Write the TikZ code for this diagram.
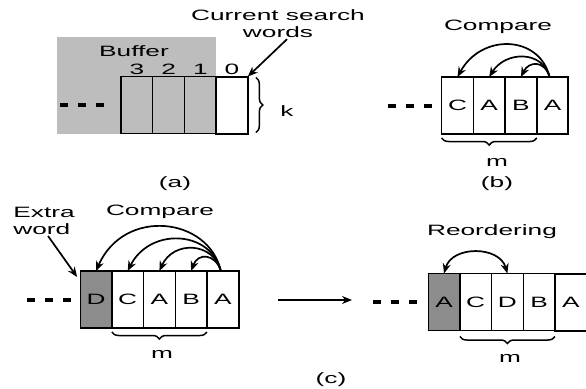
\documentclass[tikz,border=0pt]{standalone}
\usepackage{fontspec}
\setmainfont{Liberation Sans}
\newfontfamily\wide[FakeStretch=1.75]{Liberation Sans}
\usetikzlibrary{positioning,arrows.meta,decorations.pathreplacing}
\definecolor{bufgray}{gray}{0.74}
\definecolor{extragray}{gray}{0.55}
\tikzset{
    txt/.style={font=\wide\fontsize{15}{17}\selectfont, inner sep=1pt},
    num/.style={txt, inner sep=1.5pt},
    cell/.style={draw, txt, minimum width=31.7pt, minimum height=57pt, outer sep=0pt, inner sep=0pt, line width=1.3pt, fill=white},
    lastcell/.style={cell, line width=2pt},
    dots/.style={line width=4pt, dash pattern=on 8pt off 10pt},
    cmp/.style={line width=1.7pt, -{Stealth[length=10pt,width=8pt]}},
    reord/.style={line width=1.7pt, {Stealth[length=10pt,width=8pt]}-{Stealth[length=10pt,width=8pt]}},
    brc/.style={line width=1.5pt, decorate, decoration={brace, mirror, amplitude=7pt}},
    vbrc/.style={line width=1.5pt, decorate, decoration={brace, amplitude=7pt}},
}
\begin{document}
\begin{tikzpicture}[x=1pt,y=-1pt]
\useasboundingbox (0,0) rectangle (586,388);

% (a) buffer
\fill[bufgray] (57,37) rectangle (216.1,133.5);
\node[txt] (buf) at (134,51) {Buffer};
\node[cell, fill=bufgray, label={[num]above:3}] (a3) at (136.9,105) {};
\node[cell, fill=bufgray, right=0pt of a3, label={[num]above:2}] (a2) {};
\node[cell, fill=bufgray, right=0pt of a2, label={[num]above:1}] (a1) {};
\node[lastcell, right=0pt of a1, label={[num]above:0}] (a0) {};
\draw[dots] ([xshift=-61]a3.west) -- ++(46,0);
\draw[vbrc] ([xshift=8,yshift=-1]a0.north east) -- ([xshift=8,yshift=1]a0.south east);
\node[txt] (k) at (287,111) {k};
\node[txt, align=center] (cur) at (278,24) {Current search\\words};
\draw[cmp] ([xshift=9]cur.south) -- (a0.north east);
\node[txt] (capa) at (175,184) {(a)};

% (b) compare
\node[txt] (cmpb) at (498,27) {Compare};
\node[cell] (b1) at (457.5,105.5) {C};
\node[cell, right=0pt of b1] (b2) {A};
\node[cell, right=0pt of b2] (b3) {B};
\node[lastcell, right=0pt of b3] (b4) {A};
\draw[dots] ([xshift=-54]b1.west) -- ++(46,0);
\draw[cmp] ([xshift=-3]b4.north) .. controls +(-10,-42) and +(24,-44) .. (b1.north);
\draw[cmp] ([xshift=-3]b4.north) .. controls +(-7,-27) and +(16,-26) .. (b2.north);
\draw[cmp] ([xshift=-3]b4.north) .. controls +(-5,-17) and +(8,-16) .. (b3.north);
\draw[brc] ([yshift=-4]b1.south west) -- ([yshift=-4]b3.south east);
\node[txt] (mb) at (497,162) {m};
\node[txt] (capb) at (497,184) {(b)};

% (c) extra word, then reordering
\node[txt, align=left] (xtra) at (44,221) {Extra\\word};
\node[txt] (cmpc) at (160,212) {Compare};
\node[cell, fill=extragray] (c1) at (96,299.5) {D};
\node[cell, right=0pt of c1] (c2) {C};
\node[cell, right=0pt of c2] (c3) {A};
\node[cell, right=0pt of c3] (c4) {B};
\node[lastcell, right=0pt of c4] (c5) {A};
\draw[dots] ([xshift=-53]c1.west) -- ++(46,0);
\draw[cmp] ([xshift=4]xtra.south) -- ([xshift=-3,yshift=-6]c1.north west);
\draw[cmp] ([xshift=-2]c5.north) .. controls +(-12,-54) and +(28,-64) .. (c1.north);
\draw[cmp] ([xshift=-2]c5.north) .. controls +(-10,-41) and +(22,-44) .. (c2.north);
\draw[cmp] ([xshift=-2]c5.north) .. controls +(-7,-29) and +(14,-31) .. (c3.north);
\draw[cmp] ([xshift=-2]c5.north) .. controls +(-5,-17) and +(7,-19) .. (c4.north);
\draw[brc] ([yshift=-4]c2.south west) -- ([yshift=-4]c4.south east);
\node[txt] (mc) at (162,354) {m};

\coordinate (pass1) at (278,300);
\coordinate (pass2) at (352,300);
\draw[cmp] (pass1) -- (pass2);

\node[txt] (reo) at (492,232) {Reordering};
\node[cell, fill=extragray] (d1) at (444,302) {A};
\node[cell, right=0pt of d1] (d2) {C};
\node[cell, right=0pt of d2] (d3) {D};
\node[cell, right=0pt of d3] (d4) {B};
\node[lastcell, right=0pt of d4] (d5) {A};
\draw[dots] ([xshift=-55]d1.west) -- ++(46,0);
\draw[reord] (d1.north) .. controls +(8,-28) and +(-8,-28) .. (d3.north);
\draw[brc] ([yshift=-6]d2.south west) -- ([yshift=-6]d4.south east);
\node[txt] (md) at (510,358) {m};
\node[txt] (capc) at (331,380) {(c)};
\end{tikzpicture}
\end{document}
